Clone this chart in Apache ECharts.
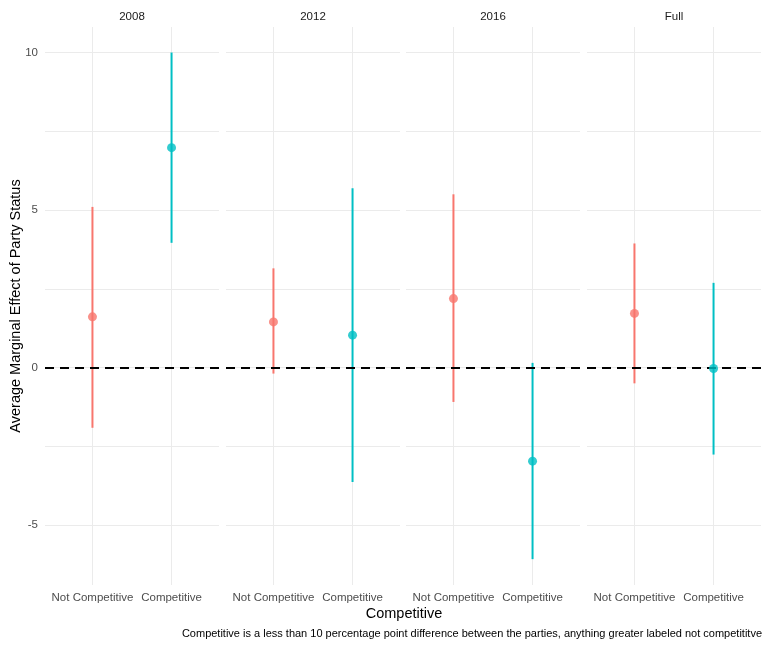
<!DOCTYPE html>
<html>
<head>
<meta charset="utf-8">
<script src="https://cdn.jsdelivr.net/npm/echarts@6/dist/echarts.min.js"></script>
<style>
  html, body { margin: 0; padding: 0; background: #fff; }
  #chart { width: 763px; height: 646px; }
</style>
</head>
<body>
<div id="chart"></div>
<script>
// facets and categories
var facets = ['2008', '2012', '2016', 'Full'];
var categories = ['Not Competitive', 'Competitive'];

// point estimates and intervals, one value per facet
var estNot  = [1.61, 1.45, 2.19, 1.72];
var lowNot  = [-1.91, -0.19, -1.09, -0.50];
var highNot = [5.10, 3.15, 5.50, 3.94];

var estComp  = [6.98, 1.03, -2.97, -0.03];
var lowComp  = [3.96, -3.63, -6.08, -2.76];
var highComp = [10.0, 5.69, 0.15, 2.69];

var yTicks = [-5, -2.5, 0, 2.5, 5, 7.5, 10];
var yLabels = [-5, 0, 5, 10];
var refLine = 0;

var colors = ['#F8766D', '#00BFC4'];
var font = 'Liberation Sans, Arial, sans-serif';

var panelLeft = [45, 226, 406, 587];
var panelWidth = 174;
var panelTop = 27;
var panelHeight = 558;

var chart = echarts.init(document.getElementById('chart'));

var grids = [], xAxes = [], yAxes = [], series = [], graphics = [];

facets.forEach(function (f, i) {
    grids.push({ left: panelLeft[i], top: panelTop, width: panelWidth, height: panelHeight });

    xAxes.push({
        gridIndex: i,
        type: 'value',
        min: 0.4,
        max: 2.6,
        axisLine: { show: false },
        axisTick: { show: false, customValues: [1, 2] },
        splitLine: { show: true, lineStyle: { color: '#EBEBEB', width: 1 } },
        axisLabel: {
            customValues: [1, 2],
            margin: 7,
            color: '#4D4D4D',
            fontSize: 11.5,
            fontFamily: font,
            formatter: function (v) { return categories[Math.round(v) - 1]; }
        }
    });

    yAxes.push({
        gridIndex: i,
        type: 'value',
        min: -6.9,
        max: 10.81,
        axisLine: { show: false },
        axisTick: { show: false, customValues: yTicks },
        splitLine: { show: true, lineStyle: { color: '#EBEBEB', width: 1 } },
        axisLabel: {
            show: i === 0,
            customValues: yLabels,
            margin: 7,
            color: '#4D4D4D',
            fontSize: 11.5,
            fontFamily: font
        }
    });

    var bars = [
        [1, lowNot[i], highNot[i], 0],
        [2, lowComp[i], highComp[i], 1]
    ];
    var pts = [
        { value: [1, estNot[i]], itemStyle: { color: colors[0] } },
        { value: [2, estComp[i]], itemStyle: { color: colors[1] } }
    ];

    series.push({
        type: 'custom',
        xAxisIndex: i,
        yAxisIndex: i,
        silent: true,
        data: bars,
        encode: { x: 0, y: [1, 2] },
        renderItem: function (params, api) {
            var x = api.value(0);
            var p1 = api.coord([x, api.value(1)]);
            var p2 = api.coord([x, api.value(2)]);
            return {
                type: 'line',
                shape: { x1: p1[0], y1: p1[1], x2: p2[0], y2: p2[1] },
                style: { stroke: colors[api.value(3)], lineWidth: 2 }
            };
        },
        markLine: {
            silent: true,
            symbol: ['none', 'none'],
            label: { show: false },
            lineStyle: { color: '#000', width: 2, type: [9, 6] },
            data: [{ yAxis: refLine }]
        }
    });

    series.push({
        type: 'scatter',
        xAxisIndex: i,
        yAxisIndex: i,
        silent: true,
        z: 10,
        symbolSize: 9,
        data: pts
    });

    // facet strip label
    graphics.push({
        type: 'text',
        x: panelLeft[i] + panelWidth / 2,
        y: 17,
        style: {
            text: f,
            fill: '#1A1A1A',
            font: '11.5px ' + font,
            align: 'center',
            verticalAlign: 'middle'
        }
    });
});

// axis titles and caption
graphics.push({
    type: 'text',
    x: 16,
    y: 306,
    rotation: Math.PI / 2,
    style: {
        text: 'Average Marginal Effect of Party Status',
        fill: '#000',
        font: '14.5px ' + font,
        align: 'center',
        verticalAlign: 'middle'
    }
});
graphics.push({
    type: 'text',
    x: 404,
    y: 614,
    style: {
        text: 'Competitive',
        fill: '#000',
        font: '14.5px ' + font,
        align: 'center',
        verticalAlign: 'middle'
    }
});
graphics.push({
    type: 'text',
    x: 762,
    y: 634,
    style: {
        text: 'Competitive is a less than 10 percentage point difference between the parties, anything greater labeled not competititve',
        fill: '#000',
        font: '11px ' + font,
        align: 'right',
        verticalAlign: 'middle'
    }
});

chart.setOption({
    animation: false,
    backgroundColor: '#fff',
    grid: grids,
    xAxis: xAxes,
    yAxis: yAxes,
    series: series,
    graphic: graphics
});
</script>
</body>
</html>
